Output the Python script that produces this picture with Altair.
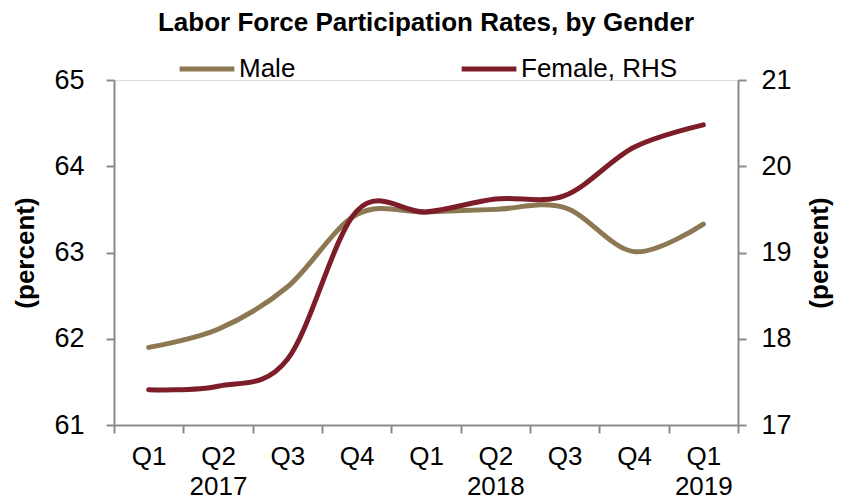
import altair as alt
import pandas as pd

quarters = ["Q1 2017", "Q2 2017", "Q3 2017", "Q4 2017",
            "Q1 2018", "Q2 2018", "Q3 2018", "Q4 2018", "Q1 2019"]
male = [61.90, 62.11, 62.60, 63.44, 63.47, 63.50, 63.52, 63.01, 63.33]
female = [17.41, 17.45, 17.76, 19.48, 19.47, 19.62, 19.66, 20.22, 20.48]
series_names = ["Male", "Female, RHS"]
series_colors = ["#8C7853", "#7D1D29"]
year_shown = ["Q2 2017", "Q2 2018", "Q1 2019"]
left_ticks = [61, 62, 63, 64, 65]
right_ticks = [17, 18, 19, 20, 21]

df = pd.DataFrame(
    [{"quarter": q, "series": "Male", "value": v} for q, v in zip(quarters, male)]
    + [{"quarter": q, "series": "Female, RHS", "value": v} for q, v in zip(quarters, female)]
)

SANS = "Liberation Sans, Arial"
GREY = "#8A8A8A"

label_expr = (
    "!isValid(datum.value) ? '' : (indexof([" + ",".join(f"'{q}'" for q in year_shown)
    + "], datum.value) >= 0 ? split(datum.value, ' ') : split(datum.value, ' ')[0])"
)

x = alt.X(
    "quarter:N", sort=quarters, title=None,
    scale=alt.Scale(paddingInner=0, paddingOuter=0),
    axis=alt.Axis(labelExpr=label_expr, labelAngle=0, labelFont=SANS, labelFontSize=26,
                  labelLineHeight=30, labelPadding=10, tickBand="extent", tickSize=8,
                  labelColor="black", domainColor=GREY, tickColor=GREY,
                  domainWidth=2, tickWidth=2),
)
color = alt.Color(
    "series:N",
    scale=alt.Scale(domain=series_names, range=series_colors),
    legend=alt.Legend(title=None, orient="none", legendX=63, legendY=-41,
                      direction="horizontal", symbolType="stroke", symbolStrokeWidth=5,
                      symbolSize=3000, labelFont=SANS, labelFontSize=26, labelLimit=400,
                      labelColor="black", columnPadding=155, labelOffset=2, padding=0),
)

base = alt.Chart(df)
male_layer = base.transform_filter(alt.datum.series == "Male").mark_line(
    interpolate="cardinal", tension=0, strokeWidth=5, strokeCap="round"
).encode(
    x=x,
    y=alt.Y("value:Q", scale=alt.Scale(domain=[61, 65], nice=False, zero=False),
            axis=alt.Axis(values=left_ticks, orient="left", title="(percent)",
                          titleFont=SANS, titleFontSize=26, titleFontWeight="bold",
                          titlePadding=15, labelFont=SANS, labelFontSize=27,
                          labelPadding=22, tickSize=8, grid=False, labelColor="black",
                          domainColor=GREY, tickColor=GREY, domainWidth=2, tickWidth=2)),
    color=color,
)
female_layer = base.transform_filter(alt.datum.series == "Female, RHS").mark_line(
    interpolate="cardinal", tension=0, strokeWidth=5, strokeCap="round"
).encode(
    x=x,
    y=alt.Y("value:Q", scale=alt.Scale(domain=[17, 21], nice=False, zero=False),
            axis=alt.Axis(values=right_ticks, orient="right", title="(percent)",
                          titleFont=SANS, titleFontSize=26, titleFontWeight="bold",
                          titleAngle=270, titleBaseline="top", titlePadding=15,
                          labelFont=SANS, labelFontSize=27, labelPadding=15, tickSize=8,
                          grid=False, labelColor="black", domainColor=GREY,
                          tickColor=GREY, domainWidth=2, tickWidth=2)),
    color=color,
)

chart = alt.layer(male_layer, female_layer).resolve_scale(y="independent").properties(
    width=624, height=345,
    title=alt.TitleParams("Labor Force Participation Rates, by Gender", font=SANS,
                          fontSize=26, fontWeight="bold", anchor="middle", offset=3,
                          color="black"),
    autosize=alt.AutoSizeParams(type="none"),
    padding={"left": 106, "top": 72, "right": 96, "bottom": 76},
).configure_view(stroke=None).configure(background="white")

chart.save("out.html", embed_options={"renderer": "svg", "actions": False})
